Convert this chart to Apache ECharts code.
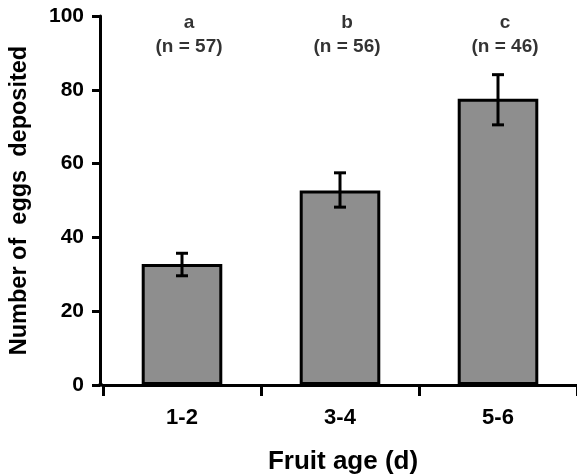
<!DOCTYPE html>
<html>
<head>
<meta charset="utf-8">
<script src="https://cdn.jsdelivr.net/npm/echarts@6/dist/echarts.min.js"></script>
<style>
  html, body { margin: 0; padding: 0; background: #fff; }
  #chart { width: 577px; height: 476px; }
</style>
</head>
<body>
<div id="chart"></div>
<script>
// data
var categories = ['1-2', '3-4', '5-6']
var meanEggs = [32.8, 52.7, 77.6]
var errLow = [29.6, 48.2, 70.5]
var errHigh = [35.7, 57.5, 84.1]
var groupLetters = ['a', 'b', 'c']
var sampleSizes = [57, 56, 46]

var FONT = '"Liberation Sans", Arial, Helvetica, sans-serif'
var GRID_LEFT = 103
var Y_OFFSET = 3

var chart = echarts.init(document.getElementById('chart'))

var option = {
  animation: false,
  backgroundColor: '#fff',
  textStyle: { fontFamily: FONT, color: '#000' },
  grid: { left: GRID_LEFT, right: 0, top: 16, bottom: 91, outerBoundsMode: 'none', containLabel: false },
  xAxis: {
    type: 'category',
    data: categories,
    boundaryGap: true,
    name: 'Fruit age (d)',
    nameLocation: 'middle',
    nameGap: 64,
    nameTextStyle: { fontFamily: FONT, fontSize: 26, fontWeight: 'bold', color: '#000', padding: [0, 0, 0, 6] },
    axisLine: { lineStyle: { color: '#000', width: 3 } },
    axisTick: { show: true, length: 11, lineStyle: { color: '#000', width: 3 } },
    axisLabel: { fontFamily: FONT, fontSize: 22, fontWeight: 'bold', color: '#000', margin: 22 },
    splitLine: { show: false }
  },
  yAxis: {
    type: 'value',
    min: 0,
    max: 100,
    interval: 20,
    offset: Y_OFFSET,
    name: 'Number of  eggs  deposited',
    nameLocation: 'middle',
    nameGap: 68,
    nameTextStyle: { fontFamily: FONT, fontSize: 23.5, fontWeight: 'bold', color: '#000' },
    axisLine: { show: true, lineStyle: { color: '#000', width: 3 } },
    axisTick: { show: true, length: 8, lineStyle: { color: '#000', width: 3 } },
    axisLabel: { fontFamily: FONT, fontSize: 21, fontWeight: 'bold', color: '#000', margin: 16 },
    splitLine: { show: false }
  },
  series: [
    {
      type: 'bar',
      data: meanEggs,
      barWidth: '51%',
      itemStyle: { color: '#8e8e8e', borderColor: '#000', borderWidth: 3 }
    },
    {
      // error bars
      type: 'custom',
      data: categories.map(function (c, i) { return [i, errLow[i], errHigh[i]] }),
      encode: { x: 0, y: [1, 2] },
      z: 5,
      renderItem: function (params, api) {
        var lo = api.coord([api.value(0), api.value(1)])
        var hi = api.coord([api.value(0), api.value(2)])
        var cap = 6
        var style = { stroke: '#000', lineWidth: 3 }
        return {
          type: 'group',
          children: [
            { type: 'line', shape: { x1: lo[0], y1: lo[1], x2: hi[0], y2: hi[1] }, style: style },
            { type: 'line', shape: { x1: lo[0] - cap, y1: lo[1], x2: lo[0] + cap, y2: lo[1] }, style: style },
            { type: 'line', shape: { x1: hi[0] - cap, y1: hi[1], x2: hi[0] + cap, y2: hi[1] }, style: style }
          ]
        }
      }
    },
    {
      // group letters + sample sizes
      type: 'scatter',
      symbolSize: 0,
      data: categories.map(function (c, i) { return [i, 95] }),
      label: {
        show: true,
        position: 'inside',
        offset: [7, 0],
        formatter: function (p) {
          var i = p.dataIndex
          return '{l|' + groupLetters[i] + '}\n{n|(n = ' + sampleSizes[i] + ')}'
        },
        rich: {
          l: { fontFamily: FONT, fontSize: 19, fontWeight: 'bold', color: '#000', lineHeight: 24 },
          n: { fontFamily: FONT, fontSize: 19, fontWeight: 'bold', color: '#000', lineHeight: 24 }
        }
      }
    }
  ]
}

chart.setOption(option)

// close the small gap between the offset y axis and the x axis line
var y0 = chart.convertToPixel({ yAxisIndex: 0 }, 0)
chart.setOption({
  graphic: [{
    type: 'line',
    shape: { x1: GRID_LEFT - Y_OFFSET - 1.5, y1: y0, x2: GRID_LEFT, y2: y0 },
    style: { stroke: '#000', lineWidth: 3 },
    z: 10
  }]
})
</script>
</body>
</html>
